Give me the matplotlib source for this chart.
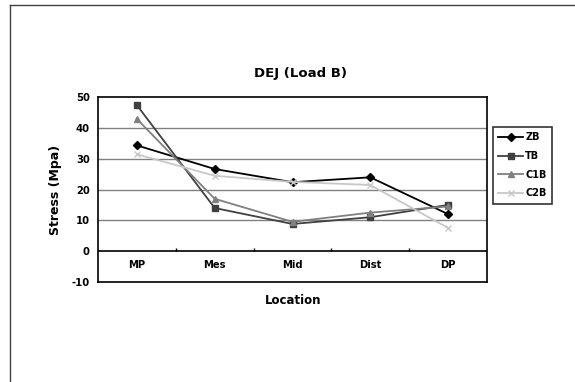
import matplotlib
matplotlib.use("Agg")
import matplotlib.pyplot as plt
from matplotlib.lines import Line2D
import numpy as np

categories = ["MP", "Mes", "Mid", "Dist", "DP"]
series_names = ["ZB", "TB", "C1B", "C2B"]
zb = [34.4, 26.7, 22.4, 24.0, 12.0]
tb = [47.5, 14.0, 8.8, 11.0, 15.0]
c1b = [43.0, 17.0, 9.5, 12.5, 14.5]
c2b = [31.5, 24.5, 22.5, 21.5, 7.5]
y_ticks = [50, 40, 30, 20, 10, 0, -10]

styles = [
    dict(color="#000000", marker="D", ms=4.5),
    dict(color="#404040", marker="s", ms=5),
    dict(color="#808080", marker="^", ms=5),
    dict(color="#c8c8c8", marker="x", ms=5),
]

plt.rcParams['font.family'] = ['DejaVu Sans']
fig = plt.figure(figsize=(5.75, 3.82), dpi=100)
ax = fig.add_axes([0.1704, 0.2626, 0.6766, 0.4822])

x = np.arange(len(categories))
for name, vals, st in zip(series_names, [zb, tb, c1b, c2b], styles):
    ax.plot(x, vals, color=st["color"], marker=st["marker"], ms=st["ms"],
            lw=1.3, label=name, mec=st["color"], mfc=st["color"], zorder=3)

ax.set_xlim(-0.5, len(categories) - 0.5)
ax.set_ylim(-10, 50)
ax.set_yticks(y_ticks)
ax.set_yticklabels([str(v) for v in y_ticks], fontsize=7.2, fontweight="bold")
ax.tick_params(axis="y", length=0, pad=6)
ax.set_xticks([])
for v in y_ticks:
    if 0 < v < 50:
        ax.axhline(v, color="#808080", lw=1.0, zorder=1)
ax.axhline(0, color="black", lw=1.2, zorder=2)
ax.vlines(x[:-1] + 0.5, 0, 1.0, color="black", lw=1.0, zorder=2)
for xi, c in zip(x, categories):
    ax.text(xi, -4.7, c, ha="center", va="center", fontsize=7.2, fontweight="bold")
for s in ax.spines.values():
    s.set_linewidth(1.2)
    s.set_color("black")

fig.text(0.522, 1 - 73 / 382, "DEJ (Load B)", ha="center", va="center",
         fontsize=9.5, fontweight="bold")
fig.text(0.51, 1 - 301 / 382, "Location", ha="center", va="center",
         fontsize=8.5, fontweight="bold")
fig.text(55 / 575, 1 - 190 / 382, "Stress (Mpa)", ha="center", va="center",
         rotation=90, fontsize=9, fontweight="bold")

leg = fig.legend(loc="upper left", bbox_to_anchor=(0.857, 0.668),
                 prop={"weight": "bold", "size": 7},
                 frameon=True, fancybox=False, handlelength=2.6,
                 handletextpad=0.2, borderpad=0.55, labelspacing=0.9,
                 borderaxespad=0)
leg.get_frame().set_edgecolor("black")
leg.get_frame().set_linewidth(1.2)

fig.add_artist(Line2D([10 / 575, 1.0], [1 - 5 / 382, 1 - 5 / 382],
                      transform=fig.transFigure, color="#404040", lw=1.0))
fig.add_artist(Line2D([10 / 575, 10 / 575], [0, 1 - 5 / 382],
                      transform=fig.transFigure, color="#404040", lw=1.0))

fig.savefig("out.png", dpi=100)
